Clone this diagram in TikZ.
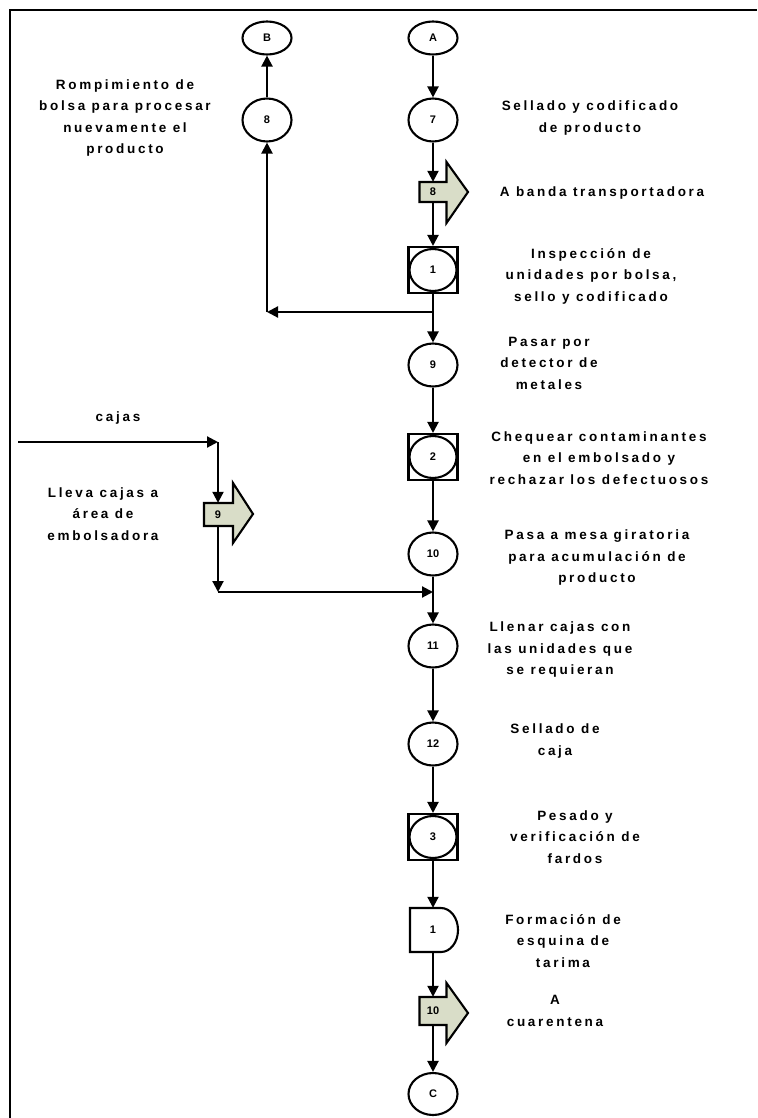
\documentclass[tikz,border=0pt]{standalone}
\usepackage{fontspec}
\setmainfont{Liberation Sans}
\newfontfamily\lblfamily[LetterSpace=20]{Liberation Sans}
\usetikzlibrary{arrows.meta,shapes.geometric,calc}
\definecolor{transfill}{RGB}{217,221,200}
\begin{document}
\begin{tikzpicture}[x=1pt,y=-1pt,
  ln/.style={line width=2.1pt},
  flow/.style={ln,-{Triangle[length=11pt,width=11pt]}},
  numfont/.style={font=\bfseries\fontsize{11}{13}\selectfont},
  conn/.style={ellipse,draw,ln,minimum width=49pt,minimum height=33pt,inner sep=0pt,numfont},
  op/.style={ellipse,draw,ln,minimum width=49pt,minimum height=43pt,inner sep=0pt,numfont},
  insp/.style={rectangle,draw,ln,minimum width=49pt,minimum height=46pt,inner sep=0pt},
  inner/.style={ellipse,draw,ln,minimum width=47pt,minimum height=42pt,inner sep=0pt,numfont},
  shaft/.style={rectangle,inner sep=0pt,numfont},
  trans/.style={ln,fill=transfill,line join=miter},
  lbl/.style={align=center,inner sep=0pt,font=\lblfamily\bfseries\fontsize{13.5}{21.5}\selectfont}]
\useasboundingbox (0,0) rectangle (757,1118);

% frame
\draw[ln] (10,1118) -- (10,10) -- (757,10);

% connectors and operations, upper part
\node[conn] (B) at (267,38) {B};
\node[conn] (A) at (433,38) {A};
\node[op] (o8) at (267,120) {8};
\node[op] (o7) at (433,120) {7};

% transport 8
\draw[trans] (419.5,182) -- (446.5,182) -- (446.5,162) -- (468,192) -- (446.5,223) -- (446.5,202) -- (419.5,202) -- cycle;
\node[shaft,minimum width=27pt,minimum height=20pt] (t8) at (433,192) {8};

% inspection 1
\node[insp] (i1) at (433,270) {};
\node[inner] (i1c) at (i1) {1};
\coordinate (br) at (433,312);
\coordinate (brL) at (267,312);

\node[op] (o9) at (433,365) {9};

% inspection 2
\node[insp] (i2) at (433,457) {};
\node[inner] (i2c) at (i2) {2};

\node[op] (o10) at (433,554) {10};
\coordinate (mg) at (433,592);
\node[op] (o11) at (433,646) {11};
\node[op] (o12) at (433,744) {12};

% inspection 3
\node[insp] (i3) at (433,837) {};
\node[inner] (i3c) at (i3) {3};

% storage 1
\draw[ln] (410,908) -- (441,908) arc[start angle=-90,end angle=90,x radius=17,y radius=22] -- (410,952) -- cycle;
\node[shaft,minimum width=46pt,minimum height=44pt] (s1) at (433,930) {1};

% transport 10
\draw[trans] (419.5,997) -- (446.5,997) -- (446.5,983) -- (468,1013) -- (446.5,1043) -- (446.5,1025) -- (419.5,1025) -- cycle;
\node[shaft,minimum width=27pt,minimum height=28pt] (t10) at (433,1011) {10};

\node[op,minimum height=42pt] (C) at (433,1094) {C};

% boxes feed on the left
\coordinate (cin) at (18,442);
\coordinate (cj) at (218,442);
\draw[trans] (204,503) -- (233,503) -- (233,483) -- (253,514) -- (233,543) -- (233,526) -- (204,526) -- cycle;
\node[shaft,minimum width=29pt,minimum height=23pt] (t9) at (218,514.5) {9};
\coordinate (cb) at (218,592);

% flow lines
\draw[flow] (A) -- (o7);
\draw[flow] (o7) -- (t8);
\draw[flow] (t8) -- (i1);
\draw[flow] (i1) -- (o9);
\draw[flow] (br) -- (brL);
\draw[flow] (brL) -- (o8);
\draw[flow] (o8) -- (B);
\draw[flow] (o9) -- (i2);
\draw[flow] (i2) -- (o10);
\draw[flow] (o10) -- (o11);
\draw[flow] (cb) -- (mg);
\draw[flow] (o11) -- (o12);
\draw[flow] (o12) -- (i3);
\draw[flow] (i3) -- (s1);
\draw[flow] (s1) -- (t10);
\draw[flow] (t10) -- (C);
\draw[flow] (cin) -- (cj);
\draw[flow] (cj) -- (t9);
\draw[flow] (t9) -- (cb);

% descriptions
\node[lbl] (d8) at (125,118) {Rompimiento de\\bolsa para procesar\\nuevamente el\\producto};
\node[lbl] (d7) at (590,118) {Sellado y codificado\\de producto};
\node[lbl] (dt8) at (602,193) {A banda transportadora};
\node[lbl] (di1) at (591,276) {Inspección de\\unidades por bolsa,\\sello y codificado};
\node[lbl] (d9) at (549,363) {Pasar por\\detector de\\metales};
\node[lbl] (di2) at (599,458) {Chequear contaminantes\\en el embolsado y\\rechazar los defectuosos};
\node[lbl] (dcj) at (118,418) {cajas};
\node[lbl] (dt9) at (103,514) {Lleva cajas a\\área de\\embolsadora};
\node[lbl] (d10) at (597,558) {Pasa a mesa giratoria\\para acumulación de\\producto};
\node[lbl] (d11) at (560,650) {Llenar cajas con\\las unidades que\\se requieran};
\node[lbl] (d12) at (555,741) {Sellado de\\caja};
\node[lbl] (di3) at (575,837) {Pesado y\\verificación de\\fardos};
\node[lbl] (ds1) at (563,941) {Formación de\\esquina de\\tarima};
\node[lbl] (dt10) at (555,1011) {A\\cuarentena};
\end{tikzpicture}
\end{document}
